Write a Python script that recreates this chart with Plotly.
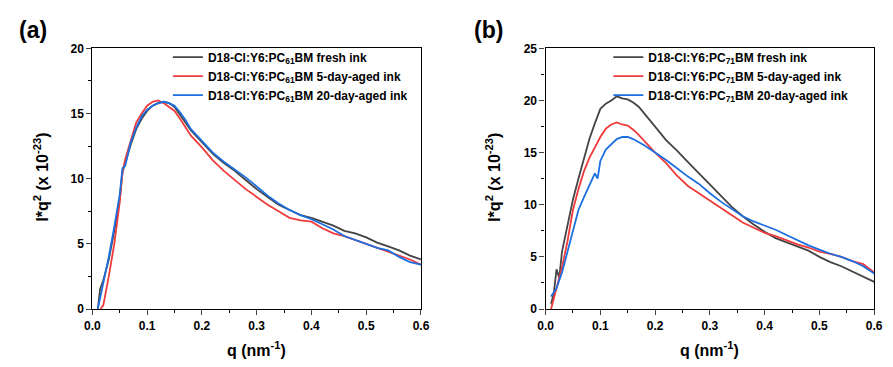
import plotly.graph_objects as go

# ---------------- data ----------------
# Panel (a): PC61BM
qa_fresh = [0.010, 0.014, 0.020, 0.030, 0.040, 0.050, 0.055, 0.060, 0.070, 0.080, 0.090, 0.100, 0.110, 0.120, 0.130, 0.140,
            0.150, 0.160, 0.170, 0.180, 0.200, 0.220, 0.240, 0.260, 0.280, 0.300, 0.320, 0.340, 0.360, 0.380,
            0.400, 0.420, 0.440, 0.460, 0.480, 0.500, 0.520, 0.540, 0.560, 0.580, 0.600]
va_fresh = [0.0, 1.5, 2.2, 3.8, 6.0, 8.5, 10.5, 11.2, 12.6, 13.8, 14.6, 15.2, 15.6, 15.8, 15.9, 15.8,
            15.5, 14.9, 14.3, 13.7, 12.8, 11.9, 11.2, 10.6, 9.9, 9.2, 8.6, 8.0, 7.6, 7.2,
            7.0, 6.7, 6.4, 6.0, 5.8, 5.5, 5.1, 4.8, 4.5, 4.1, 3.8]

qa_5d = [0.015, 0.020, 0.030, 0.040, 0.050, 0.055, 0.060, 0.070, 0.080, 0.090, 0.100, 0.110, 0.120, 0.130, 0.140,
         0.150, 0.160, 0.170, 0.180, 0.200, 0.220, 0.240, 0.260, 0.280, 0.300, 0.320, 0.340, 0.360, 0.380,
         0.400, 0.420, 0.440, 0.460, 0.480, 0.500, 0.520, 0.540, 0.560, 0.580, 0.600]
va_5d = [0.0, 0.3, 2.5, 5.0, 8.2, 10.5, 11.5, 13.0, 14.3, 15.0, 15.6, 15.9, 16.0, 15.8, 15.5,
         15.2, 14.6, 13.9, 13.3, 12.4, 11.4, 10.6, 9.9, 9.2, 8.6, 8.0, 7.5, 7.0, 6.8,
         6.7, 6.2, 5.8, 5.6, 5.3, 5.0, 4.7, 4.4, 4.1, 3.8, 3.4]

qa_20d = [0.010, 0.020, 0.030, 0.040, 0.050, 0.055, 0.060, 0.070, 0.080, 0.090, 0.100, 0.110, 0.120, 0.130, 0.140,
          0.150, 0.160, 0.170, 0.180, 0.200, 0.220, 0.240, 0.260, 0.280, 0.300, 0.320, 0.340, 0.360, 0.380,
          0.400, 0.420, 0.440, 0.460, 0.480, 0.500, 0.520, 0.540, 0.560, 0.580, 0.600]
va_20d = [0.0, 2.0, 4.0, 6.3, 8.8, 10.8, 11.0, 12.8, 13.9, 14.8, 15.3, 15.6, 15.8, 15.9, 15.8,
          15.6, 15.1, 14.5, 13.8, 12.9, 12.0, 11.3, 10.7, 10.1, 9.4, 8.7, 8.1, 7.6, 7.2,
          6.9, 6.5, 6.1, 5.6, 5.3, 5.0, 4.7, 4.5, 4.0, 3.6, 3.4]

# Panel (b): PC71BM
qb_fresh = [0.010, 0.015, 0.020, 0.025, 0.030, 0.040, 0.050, 0.060, 0.070, 0.080, 0.090, 0.100, 0.110, 0.120, 0.130, 0.140,
            0.150, 0.160, 0.170, 0.180, 0.200, 0.220, 0.240, 0.260, 0.280, 0.300, 0.320, 0.340, 0.360, 0.380,
            0.400, 0.420, 0.440, 0.460, 0.480, 0.500, 0.520, 0.540, 0.560, 0.580, 0.600]
vb_fresh = [0.5, 1.5, 3.8, 3.0, 5.5, 8.0, 10.5, 12.5, 14.5, 16.3, 17.8, 19.2, 19.7, 20.0, 20.4, 20.2,
            20.1, 19.8, 19.4, 18.8, 17.5, 16.2, 15.2, 14.1, 13.0, 11.9, 10.9, 9.8, 8.9, 8.1,
            7.4, 6.8, 6.4, 6.0, 5.6, 5.0, 4.5, 4.1, 3.6, 3.1, 2.6]

qb_5d = [0.010, 0.020, 0.030, 0.040, 0.050, 0.060, 0.070, 0.080, 0.090, 0.100, 0.110, 0.120, 0.130, 0.140,
         0.150, 0.160, 0.170, 0.180, 0.200, 0.220, 0.240, 0.260, 0.280, 0.300, 0.320, 0.340, 0.360, 0.380,
         0.400, 0.420, 0.440, 0.460, 0.480, 0.500, 0.520, 0.540, 0.560, 0.580, 0.600]
vb_5d = [0.0, 2.0, 4.0, 6.5, 9.5, 11.5, 13.2, 14.5, 15.5, 16.5, 17.3, 17.7, 17.9, 17.7,
         17.6, 17.2, 16.7, 16.1, 15.0, 14.0, 12.8, 11.8, 11.1, 10.4, 9.7, 9.0, 8.3, 7.8,
         7.3, 7.0, 6.6, 6.2, 5.9, 5.5, 5.3, 5.0, 4.6, 4.3, 3.5]

qb_20d = [0.010, 0.015, 0.020, 0.030, 0.040, 0.050, 0.060, 0.070, 0.080, 0.090, 0.095, 0.100, 0.110, 0.120, 0.130, 0.140,
          0.150, 0.160, 0.170, 0.180, 0.200, 0.220, 0.240, 0.260, 0.280, 0.300, 0.320, 0.340, 0.360, 0.380,
          0.400, 0.420, 0.440, 0.460, 0.480, 0.500, 0.520, 0.540, 0.560, 0.580, 0.600]
vb_20d = [1.2, 1.6, 2.0, 3.5, 5.5, 7.5, 9.5, 10.7, 11.8, 13.0, 12.5, 14.2, 15.3, 15.8, 16.3, 16.5,
          16.5, 16.3, 16.0, 15.7, 15.0, 14.3, 13.5, 12.7, 12.0, 11.1, 10.3, 9.6, 8.9, 8.4,
          8.0, 7.6, 7.1, 6.6, 6.1, 5.7, 5.3, 5.0, 4.6, 4.1, 3.4]

names_a = ["D18-Cl:Y6:PC<sub>61</sub>BM fresh ink",
           "D18-Cl:Y6:PC<sub>61</sub>BM 5-day-aged ink",
           "D18-Cl:Y6:PC<sub>61</sub>BM 20-day-aged ink"]
names_b = ["D18-Cl:Y6:PC<sub>71</sub>BM fresh ink",
           "D18-Cl:Y6:PC<sub>71</sub>BM 5-day-aged ink",
           "D18-Cl:Y6:PC<sub>71</sub>BM 20-day-aged ink"]
colors = ["#444444", "#f03a3c", "#1c6fe0"]

x_ticks = [0.0, 0.1, 0.2, 0.3, 0.4, 0.5, 0.6]
x_ticklabels = ["0.0", "0.1", "0.2", "0.3", "0.4", "0.5", "0.6"]

# ---------------- figure ----------------
W, H = 893, 367
def px(x):
    return x / W
def py(y):
    return 1 - y / H

fig = go.Figure()
series_a = [(qa_fresh, va_fresh), (qa_5d, va_5d), (qa_20d, va_20d)]
series_b = [(qb_fresh, vb_fresh), (qb_5d, vb_5d), (qb_20d, vb_20d)]
for (q, v), n, c in zip(series_a, names_a, colors):
    fig.add_trace(go.Scatter(x=q, y=v, mode="lines", name=n, line=dict(color=c, width=1.8),
                             xaxis="x", yaxis="y", legend="legend"))
for (q, v), n, c in zip(series_b, names_b, colors):
    fig.add_trace(go.Scatter(x=q, y=v, mode="lines", name=n, line=dict(color=c, width=1.8),
                             xaxis="x2", yaxis="y2", legend="legend2"))

tickfont = dict(family="Arial, Liberation Sans", size=12, color="black", weight="bold")
ydom = [py(314), py(43)]
common_x = dict(range=[0, 0.6], tickvals=x_ticks, ticktext=x_ticklabels, ticks="outside", ticklen=5,
                tickwidth=1.2, showline=True, linewidth=1.3, linecolor="black", mirror=True,
                showgrid=False, zeroline=False, tickfont=tickfont,
                minor=dict(dtick=0.05, tick0=0, ticks="outside", ticklen=3, tickwidth=1, tickcolor="black"))
common_y = dict(ticks="outside", ticklen=5, tickwidth=1.2, showline=True, linewidth=1.3, linecolor="black",
                mirror=True, showgrid=False, zeroline=False, tickfont=tickfont,
                minor=dict(dtick=2.5, tick0=0, ticks="outside", ticklen=3, tickwidth=1, tickcolor="black"))

legfont = dict(family="Arial, Liberation Sans", size=12, color="black", weight="bold")
fig.update_layout(
    width=W, height=H, margin=dict(l=0, r=0, t=0, b=0),
    paper_bgcolor="white", plot_bgcolor="white",
    xaxis=dict(domain=[px(86), px(421)], anchor="y", **common_x),
    yaxis=dict(domain=ydom, anchor="x", range=[0, 20], dtick=5, tick0=0, **common_y),
    xaxis2=dict(domain=[px(548), px(883)], anchor="y2", **common_x),
    yaxis2=dict(domain=ydom, anchor="x2", range=[0, 25], dtick=5, tick0=0, **common_y),
    legend=dict(x=px(163), y=py(37), xanchor="left", yanchor="top", bgcolor="rgba(0,0,0,0)",
                font=legfont, tracegroupgap=0, itemwidth=30),
    legend2=dict(x=px(612), y=py(37), xanchor="left", yanchor="top", bgcolor="rgba(0,0,0,0)",
                 font=legfont, tracegroupgap=0, itemwidth=30),
    showlegend=True,
)

title_font = dict(family="Arial, Liberation Sans", size=16, color="black", weight="bold")
ann = []
for cx, label in [(253, "q (nm<sup>-1</sup>)"), (715, "q (nm<sup>-1</sup>)")]:
    ann.append(dict(x=px(cx), y=py(356), xref="paper", yref="paper", text=label, showarrow=False,
                    font=title_font, xanchor="center", yanchor="middle"))
for cx in [34, 495]:
    ann.append(dict(x=px(cx), y=py(177), xref="paper", yref="paper",
                    text="I*q<sup>2</sup> (x 10<sup>-23</sup>)", showarrow=False, textangle=-90,
                    font=title_font, xanchor="center", yanchor="middle"))
for cx, label in [(25, "(a)"), (490, "(b)")]:
    ann.append(dict(x=px(cx), y=py(24), xref="paper", yref="paper", text=label, showarrow=False,
                    font=dict(family="Arial, Liberation Sans", size=23, color="black", weight="bold"),
                    xanchor="center", yanchor="middle"))
fig.update_layout(annotations=ann)

fig.write_html("out.html")
